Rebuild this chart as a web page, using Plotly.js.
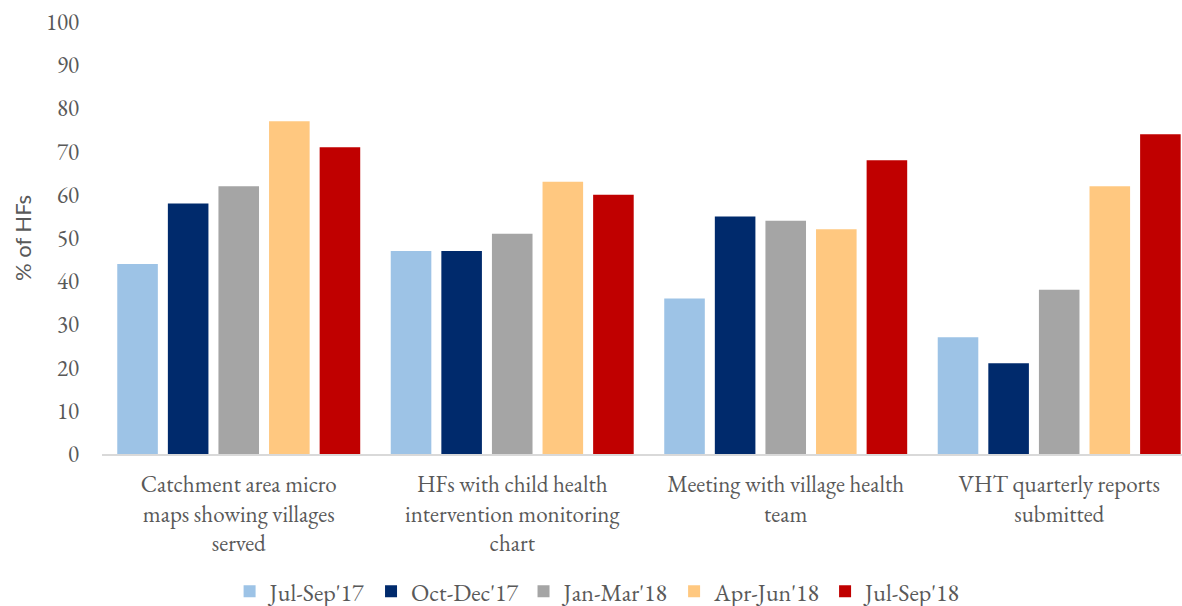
<!DOCTYPE html>
<html>
<head>
<meta charset="utf-8">
<script src="https://cdn.plot.ly/plotly-3.0.1.min.js"></script>
<style>
  html, body { margin: 0; padding: 0; background: #fff; }
  #chart { width: 1182px; height: 606px; }
</style>
</head>
<body>
<div id="chart"></div>
<script>
// Indicator categories (x axis), with line breaks as laid out under the bars
const categories = [
  "Catchment area micro<br>maps showing villages<br>served",
  "HFs with child health<br>intervention monitoring<br>chart",
  "Meeting with village health<br>team",
  "VHT quarterly reports<br>submitted"
];

// Reporting quarters (one bar series each)
const quarters = ["Jul-Sep'17", "Oct-Dec'17", "Jan-Mar'18", "Apr-Jun'18", "Jul-Sep'18"];

// % of health facilities per indicator, per quarter
const julSep17 = [44, 47, 36, 27];
const octDec17 = [58, 47, 55, 21];
const janMar18 = [62, 51, 54, 38];
const aprJun18 = [77, 63, 52, 62];
const julSep18 = [71, 60, 68, 74];

const seriesValues = [julSep17, octDec17, janMar18, aprJun18, julSep18];
const seriesColors = ["#9DC3E6", "#002A6C", "#A5A5A5", "#FFC880", "#C00000"];

const serif = "Garamond, 'EB Garamond', 'Liberation Serif', 'DejaVu Serif', serif";
const textGrey = "#595959";

const traces = quarters.map((q, i) => ({
  type: "bar",
  name: q,
  x: categories,
  y: seriesValues[i],
  marker: { color: seriesColors[i] },
  hoverinfo: "name+y"
}));

const layout = {
  width: 1182,
  height: 606,
  margin: { l: 102, r: 0, t: 22, b: 152 },
  paper_bgcolor: "#ffffff",
  plot_bgcolor: "#ffffff",
  barmode: "group",
  bargap: 0.075,
  bargroupgap: 0.198,
  font: { family: serif, size: 23, color: textGrey },
  xaxis: {
    type: "category",
    range: [-0.5, 3.449],
    automargin: false,
    showgrid: false,
    zeroline: false,
    showline: true,
    linecolor: "#D9D9D9",
    linewidth: 2,
    ticks: "",
    ticklabelstandoff: 8,
    tickfont: { family: serif, size: 23, color: textGrey }
  },
  yaxis: {
    range: [0, 100],
    dtick: 10,
    automargin: false,
    showgrid: false,
    zeroline: false,
    showline: false,
    ticks: "",
    ticklabelstandoff: 22,
    tickfont: { family: serif, size: 23, color: textGrey },
    title: {
      text: "% of HFs",
      font: { family: "Lato, 'Open Sans', sans-serif", size: 22, color: textGrey },
      standoff: 8
    }
  },
  legend: {
    orientation: "h",
    xref: "container",
    yref: "container",
    x: 0.506,
    xanchor: "center",
    y: 0.061,
    yanchor: "top",
    font: { family: serif, size: 24, color: textGrey },
    itemwidth: 30,
    traceorder: "normal"
  },
  showlegend: true
};

Plotly.newPlot("chart", traces, layout, { displayModeBar: false, staticPlot: true });
</script>
</body>
</html>
